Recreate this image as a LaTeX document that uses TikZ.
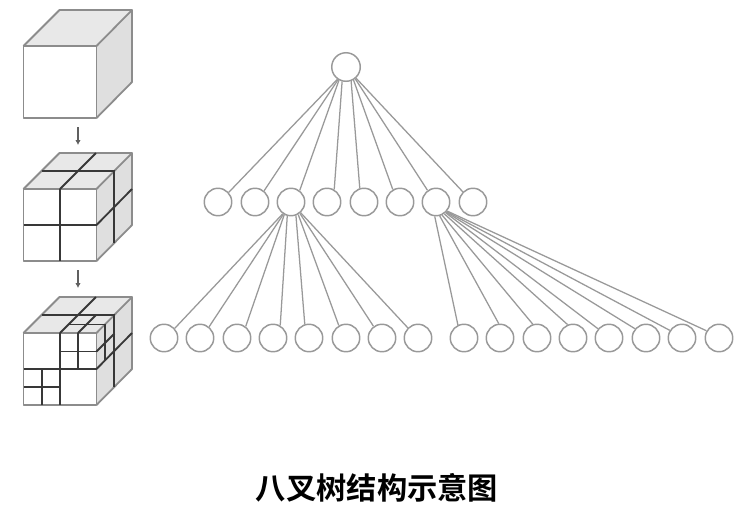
\documentclass[tikz,border=0pt]{standalone}
\usepackage{fontspec}
\setmainfont{Noto Sans CJK SC}[BoldFont={Noto Sans CJK SC Bold}]
\usetikzlibrary{arrows.meta}
\definecolor{ln}{gray}{0.6}
\definecolor{ol}{gray}{0.55}
\definecolor{dk}{gray}{0.22}
\tikzset{
  treenode/.style={circle,draw=ln,line width=1.1pt,fill=white,minimum size=20.6pt,inner sep=0pt},
  rootnode/.style={treenode,minimum size=21.4pt},
  edge/.style={draw=ln,line width=0.95pt},
  outline/.style={draw=ol,line width=1.35pt,line join=round},
  cut/.style={draw=dk,line width=1.4pt},
  stepdown/.style={draw=dk!80,line width=0.8pt,-{Latex[length=3.6pt,width=4pt]}},
}
% \cubebase{top y of the front face}
\newcommand{\cubebase}[1]{%
  \fill[white] (23.5,#1) rectangle (96.5,#1+72);
  \fill[gray!18] (23.5,#1) -- (59.5,#1-36) -- (132,#1-36) -- (96.5,#1) -- cycle;
  \fill[gray!25] (96.5,#1) -- (132,#1-36) -- (132,#1+36) -- (96.5,#1+72) -- cycle;
}
\newcommand{\cubeoutline}[1]{%
  \draw[outline] (23.5,#1) rectangle (96.5,#1+72);
  \draw[outline] (23.5,#1) -- (59.5,#1-36) -- (132,#1-36) -- (96.5,#1);
  \draw[outline] (132,#1-36) -- (132,#1+36) -- (96.5,#1+72);
}
% halving cuts of the whole cube
\newcommand{\cubecuts}[1]{%
  \draw[cut] (60,#1) -- (60,#1+72);
  \draw[cut] (23.5,#1+36) -- (96.5,#1+36);
  \draw[cut] (60,#1) -- (96,#1-36);
  \draw[cut] (41.5,#1-18) -- (114.5,#1-18);
  \draw[cut] (114.2,#1-18) -- (114.2,#1+54);
  \draw[cut] (96.5,#1+36) -- (132,#1);
}
\begin{document}
\begin{tikzpicture}[x=0.75pt,y=-0.75pt]
\useasboundingbox (0,0) rectangle (747,511);
\fill[white] (0,0) rectangle (747,511);
% cubes
\cubebase{46}\cubeoutline{46}
\cubebase{189}\cubeoutline{189}\cubecuts{189}
\cubebase{333}\cubeoutline{333}\cubecuts{333}
\draw[cut] (78,333) -- (78,369);
\draw[cut] (60,351.5) -- (96.5,351.5);
\draw[cut] (78,333) -- (96,315);
\draw[cut] (69,324.5) -- (105.5,324.5);
\draw[cut] (105.2,324.5) -- (105.2,360);
\draw[cut] (96.5,351.5) -- (114.5,333.5);
\draw[cut] (42,369) -- (42,405);
\draw[cut] (23.5,387) -- (60,387);
% step arrows
\coordinate (a1s) at (78,127); \coordinate (a1e) at (78,145);
\coordinate (a2s) at (78,270); \coordinate (a2e) at (78,288);
\draw[stepdown] (a1s) -- (a1e);
\draw[stepdown] (a2s) -- (a2e);
% tree nodes
\node[rootnode] (r) at (346,67) {};
\foreach \n/\x in {1/218,2/255,3/291,4/327,5/364,6/400,7/436,8/473}
  \node[treenode] (m\n) at (\x,202) {};
\foreach \n/\x in {1/164,2/200,3/237,4/273,5/309,6/346,7/382,8/418}
  \node[treenode] (a\n) at (\x,338) {};
\foreach \n/\x in {1/464,2/500,3/537,4/573,5/609,6/646,7/682,8/719}
  \node[treenode] (b\n) at (\x,338) {};
% tree edges: parent border angle / child border angle
\foreach \n/\s/\e in {1/-125/42,2/-122/51,3/-118/53,4/-105/60,5/-70/107,6/-60/120,7/-52/126,8/-48/135} {
  \draw[edge] (r.\s) -- (m\n.\e);
  \draw[edge] (m3.\s) -- (a\n.\e);
}
\foreach \n/\s/\e in {1/-95/115,2/-75/95,3/-65/107,4/-55/112,5/-48/140,6/-45/140,7/-42/148,8/-39/150}
  \draw[edge] (m7.\s) -- (b\n.\e);
% caption
\node (cap) at (377,488) {\fontsize{22.7pt}{26pt}\selectfont\bfseries 八叉树结构示意图};
\end{tikzpicture}
\end{document}
